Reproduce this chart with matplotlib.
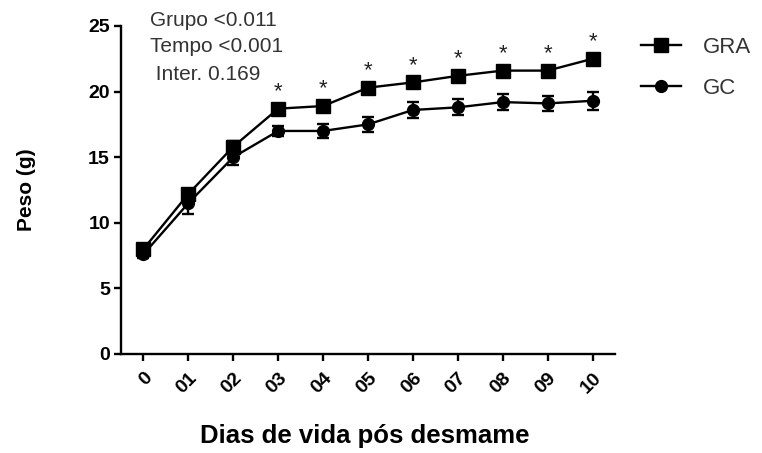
import matplotlib
matplotlib.use("Agg")
import matplotlib.pyplot as plt
from matplotlib.lines import Line2D

plt.rcParams['font.family'] = ['Liberation Sans', 'DejaVu Sans']

days = [0, 1, 2, 3, 4, 5, 6, 7, 8, 9, 10]
day_labels = ["0", "01", "02", "03", "04", "05", "06", "07", "08", "09", "10"]

gra_mean = [8.0, 12.2, 15.8, 18.7, 18.9, 20.3, 20.7, 21.2, 21.6, 21.6, 22.5]
gra_err = [0.3, 0.4, 0.4, 0.3, 0.3, 0.3, 0.3, 0.3, 0.3, 0.3, 0.3]
gc_mean = [7.6, 11.5, 15.0, 17.0, 17.0, 17.5, 18.6, 18.8, 19.2, 19.1, 19.3]
gc_err = [0.3, 0.8, 0.6, 0.4, 0.5, 0.6, 0.6, 0.6, 0.6, 0.6, 0.7]

sig_days = [3, 4, 5, 6, 7, 8, 9, 10]
stats_lines = ["Grupo <0.011", "Tempo <0.001", " Inter. 0.169"]

fig = plt.figure(figsize=(7.62, 4.53), dpi=100)
ax = fig.add_axes([121 / 762, 1 - 354 / 453, (615 - 121) / 762, (354 - 26) / 453])

common = dict(color='black', lw=1.7, capsize=4.5, capthick=1.7, elinewidth=1.7, clip_on=False)
ax.errorbar(days, gra_mean, yerr=gra_err, marker='s', ms=9.5, **common)
ax.errorbar(days, gc_mean, yerr=gc_err, marker='o', ms=8.5, **common)

for d in sig_days:
    ax.text(d, gra_mean[d] + 0.5, '*', ha='center', va='bottom', fontsize=16, color='#222222')

ax.set_xlim(-0.5, 10.5)
ax.set_ylim(0, 25)
ax.set_xticks(days)
ax.set_xticklabels(day_labels, rotation=45, ha='right', rotation_mode='anchor',
                   fontsize=14, fontweight='bold')
ax.set_yticks([0, 5, 10, 15, 20, 25])
ax.set_yticklabels(['0', '5', '10', '15', '20', '25'], fontsize=14, fontweight='bold')
ax.tick_params(axis='both', width=1.7, length=5, color='black')
ax.tick_params(axis='x', pad=6)
ax.tick_params(axis='y', pad=3)

for s in ['top', 'right']:
    ax.spines[s].set_visible(False)
for s in ['left', 'bottom']:
    ax.spines[s].set_linewidth(1.7)

ax.set_ylabel('Peso (g)', fontsize=15, fontweight='bold')
ax.yaxis.set_label_coords(36 / 762, 1 - 190 / 453, transform=fig.transFigure)
ax.set_xlabel('Dias de vida pós desmame', fontsize=18.5, fontweight='bold')
ax.xaxis.set_label_coords(365 / 762, 1 - 424 / 453, transform=fig.transFigure)

x_pos = [150, 150, 150]
for i, t in enumerate(stats_lines):
    fig.text(x_pos[i] / 762, 1 - (20 + 27 * i) / 453, t, fontsize=15, color='#333333',
             ha='left', va='center')

handles = [
    Line2D([], [], color='black', lw=1.7, marker='s', ms=9.5),
    Line2D([], [], color='black', lw=1.7, marker='o', ms=8.5),
]
fig.legend(handles, ['GRA', 'GC'], loc='center left', bbox_to_anchor=(621 / 762, 1 - 68 / 453),
           frameon=False, fontsize=16, handlelength=1.8, labelspacing=0.9,
           handletextpad=1.0, labelcolor='#333333')

fig.savefig('out.png', dpi=100)
